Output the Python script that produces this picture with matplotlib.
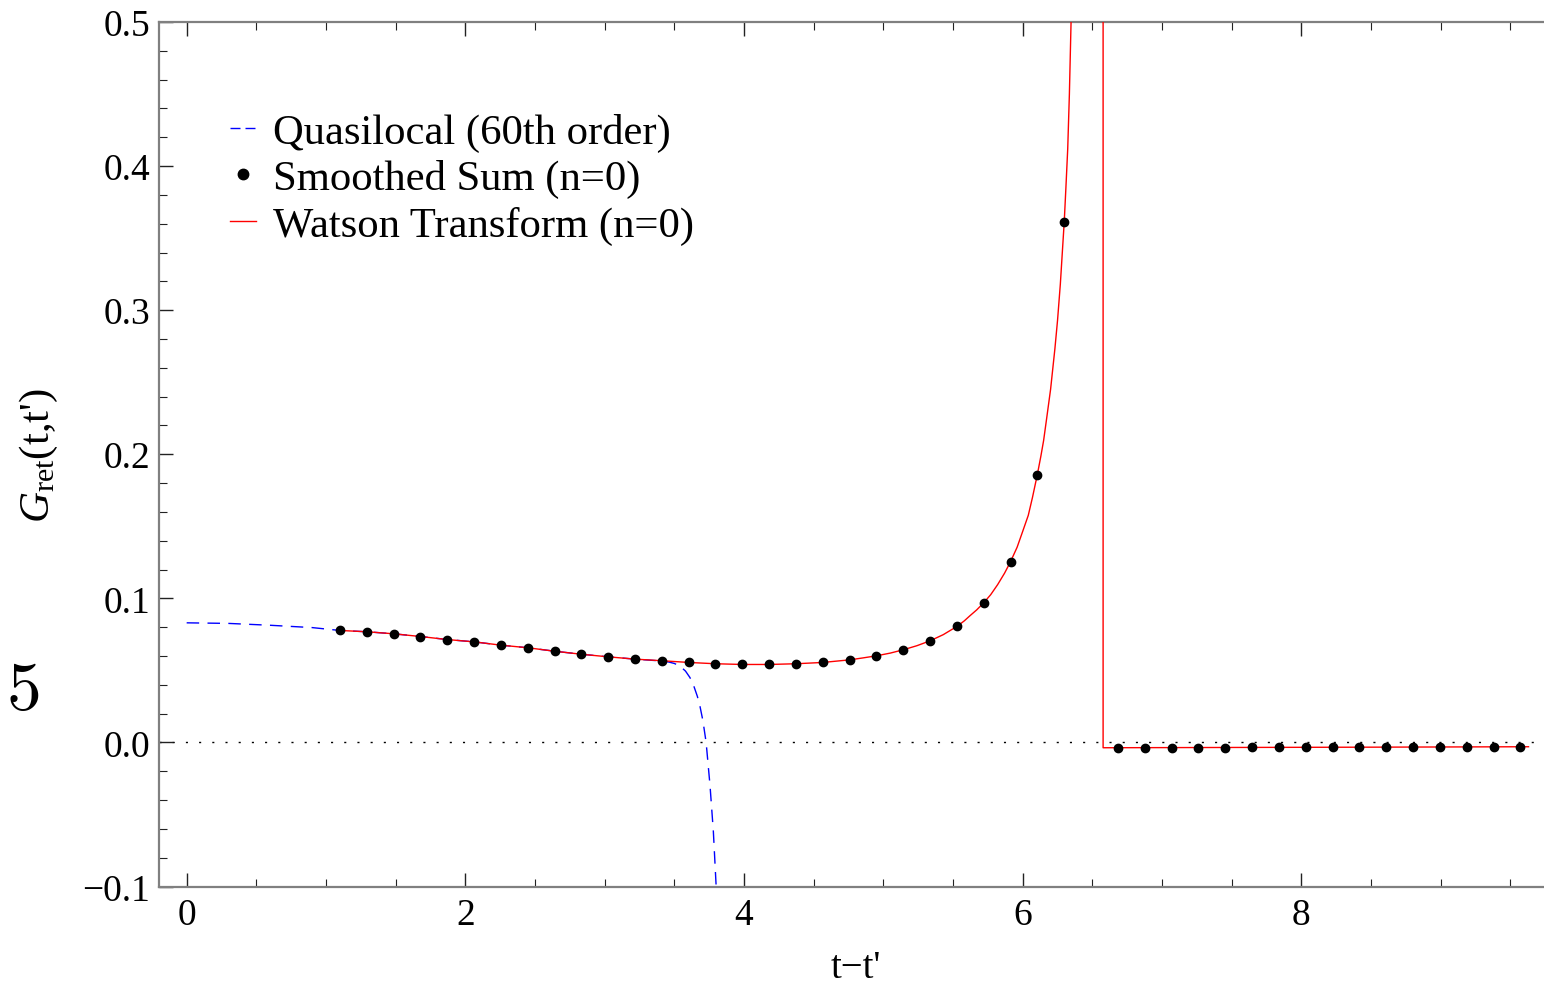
import matplotlib
matplotlib.use("Agg")
import matplotlib.pyplot as plt
from matplotlib.ticker import MultipleLocator, FuncFormatter
from matplotlib.lines import Line2D

plt.rcParams['font.family'] = ['Liberation Serif', 'DejaVu Serif']
plt.rcParams['mathtext.fontset'] = 'custom'
plt.rcParams['mathtext.rm'] = 'Liberation Serif'
plt.rcParams['mathtext.it'] = 'Liberation Serif:italic'

# Smoothed sum (n=0) points
dots_x = [1.100, 1.293, 1.485, 1.678, 1.870, 2.063, 2.255, 2.448, 2.640, 2.833,
          3.025, 3.218, 3.410, 3.603, 3.795, 3.988, 4.180, 4.373, 4.565, 4.758,
          4.950, 5.143, 5.335, 5.528, 5.720, 5.913, 6.105, 6.298,
          6.684, 6.876, 7.069, 7.261, 7.454, 7.646, 7.839, 8.031, 8.224, 8.416,
          8.609, 8.801, 8.994, 9.186, 9.379, 9.571]
dots_y = [0.0777, 0.0768, 0.0754, 0.0735, 0.0714, 0.0698, 0.0675, 0.0657, 0.0633, 0.0612,
          0.0594, 0.0578, 0.0567, 0.0555, 0.0546, 0.0541, 0.0541, 0.0546, 0.0555, 0.0573,
          0.0601, 0.0643, 0.0705, 0.0805, 0.0969, 0.1255, 0.1859, 0.3613,
          -0.0037, -0.0037, -0.0037, -0.0036, -0.0036, -0.0035, -0.0035, -0.0034, -0.0034, -0.0033,
          -0.0033, -0.0032, -0.0032, -0.0031, -0.0031, -0.0030]

# Watson transform (n=0) curve
watson_x = [1.100, 1.293, 1.485, 1.678, 1.870, 2.063, 2.255, 2.448, 2.640, 2.833,
            3.025, 3.218, 3.410, 3.603, 3.795, 3.988, 4.180, 4.373, 4.565, 4.758,
            4.850, 4.950, 5.050, 5.143, 5.240, 5.335, 5.430, 5.528, 5.580, 5.620,
            5.670, 5.720, 5.770, 5.820, 5.870, 5.913, 5.960, 6.000, 6.040, 6.070,
            6.105, 6.130, 6.150, 6.172, 6.200, 6.231, 6.250, 6.270, 6.298, 6.310,
            6.323, 6.335, 6.347, 6.400, 6.480, 6.560, 6.576,
            6.577, 7.500, 8.500, 9.630]
watson_y = [0.0777, 0.0768, 0.0754, 0.0735, 0.0714, 0.0698, 0.0675, 0.0657, 0.0633, 0.0612,
            0.0594, 0.0578, 0.0567, 0.0555, 0.0546, 0.0541, 0.0541, 0.0546, 0.0555, 0.0573,
            0.0586, 0.0601, 0.0620, 0.0643, 0.0671, 0.0705, 0.0748, 0.0805, 0.0843, 0.0878,
            0.0920, 0.0969, 0.1025, 0.1095, 0.1175, 0.1255, 0.1355, 0.1465, 0.1576, 0.1700,
            0.1859, 0.1985, 0.2095, 0.2250, 0.2450, 0.2732, 0.2930, 0.3180, 0.3613, 0.3850,
            0.4119, 0.4500, 0.5000, 0.8000, 2.0000, 8.0000, 40.000,
            -0.0037, -0.0035, -0.0033, -0.0030]

# Quasilocal (60th order) curve
quasi_x = [0.000, 0.300, 0.600, 0.900, 1.100, 1.293, 1.485, 1.678, 1.870, 2.063,
           2.255, 2.448, 2.640, 2.833, 3.025, 3.218, 3.410, 3.460, 3.500, 3.540,
           3.580, 3.612, 3.640, 3.665, 3.684, 3.705, 3.728, 3.756, 3.780, 3.800, 3.815]
quasi_y = [0.0830, 0.0826, 0.0813, 0.0797, 0.0777, 0.0768, 0.0754, 0.0735, 0.0714, 0.0698,
           0.0675, 0.0657, 0.0633, 0.0612, 0.0594, 0.0578, 0.0565, 0.0558, 0.0548, 0.0530,
           0.0495, 0.0450, 0.0390, 0.0320, 0.0250, 0.0150, 0.0000, -0.0300, -0.0620, -0.1000, -0.1200]

labels = ["Quasilocal (60th order)", "Smoothed Sum (n=0)", "Watson Transform (n=0)"]

W, H = 1544, 987
fig = plt.figure(figsize=(W / 100, H / 100), dpi=100)
left, right, top, bottom = 158.8, 1552.2, 23, 887.5
ax = fig.add_axes([left / W, 1 - bottom / H, (right - left) / W, (bottom - top) / H])

ax.axhline(0, color='black', lw=1.0, linestyle=(0, (1.5, 8)), zorder=1)
ax.plot(quasi_x, quasi_y, color='blue', lw=1.0, linestyle=(0, (9, 6)), zorder=2)
ax.plot(watson_x, watson_y, color='red', lw=1.0, zorder=3)
ax.plot(dots_x, dots_y, 'o', color='black', ms=6, zorder=4)

ax.set_xlim(-0.2, 9.8)
ax.set_ylim(-0.1, 0.5)
ax.xaxis.set_major_locator(MultipleLocator(2))
ax.xaxis.set_minor_locator(MultipleLocator(0.5))
ax.yaxis.set_major_locator(MultipleLocator(0.1))
ax.yaxis.set_minor_locator(MultipleLocator(0.02))
ax.yaxis.set_major_formatter(FuncFormatter(lambda v, p: ("%.1f" % v).replace("-", "\u2212")))
ax.xaxis.set_major_formatter(FuncFormatter(lambda v, p: "%d" % round(v)))

ax.tick_params(which='both', direction='in', top=True, right=False, colors='#222222',
               labelcolor='black', labelsize=27)
ax.tick_params(which='major', length=10, width=1.0)
ax.tick_params(axis='x', which='major', pad=8)
ax.tick_params(axis='y', which='major', pad=6)
ax.tick_params(which='minor', length=6, width=0.8)
for s in ax.spines.values():
    s.set_color('#808080')
    s.set_linewidth(1.6)

ax.set_xlabel("t\u2212t'", fontsize=28, labelpad=12)
ax.set_ylabel(r"$G_{\mathrm{ret}}$(t,t')", fontsize=31, labelpad=16)

handles = [Line2D([], [], color='blue', lw=1.0, linestyle=(0, (7.2, 3.6))),
           Line2D([], [], marker='o', color='black', linestyle='none', ms=7.5),
           Line2D([], [], color='red', lw=1.0)]
ax.legend(handles, labels, loc='upper left', bbox_to_anchor=(0.0385, 0.915),
          frameon=False, fontsize=30.7, handlelength=0.61, handletextpad=0.42,
          labelspacing=0.18, borderaxespad=0)

fig.text(7 / W, 1 - 691 / H, "5", fontsize=50, va='center', ha='left', family='cmr10')

fig.savefig("out.png", dpi=100)
